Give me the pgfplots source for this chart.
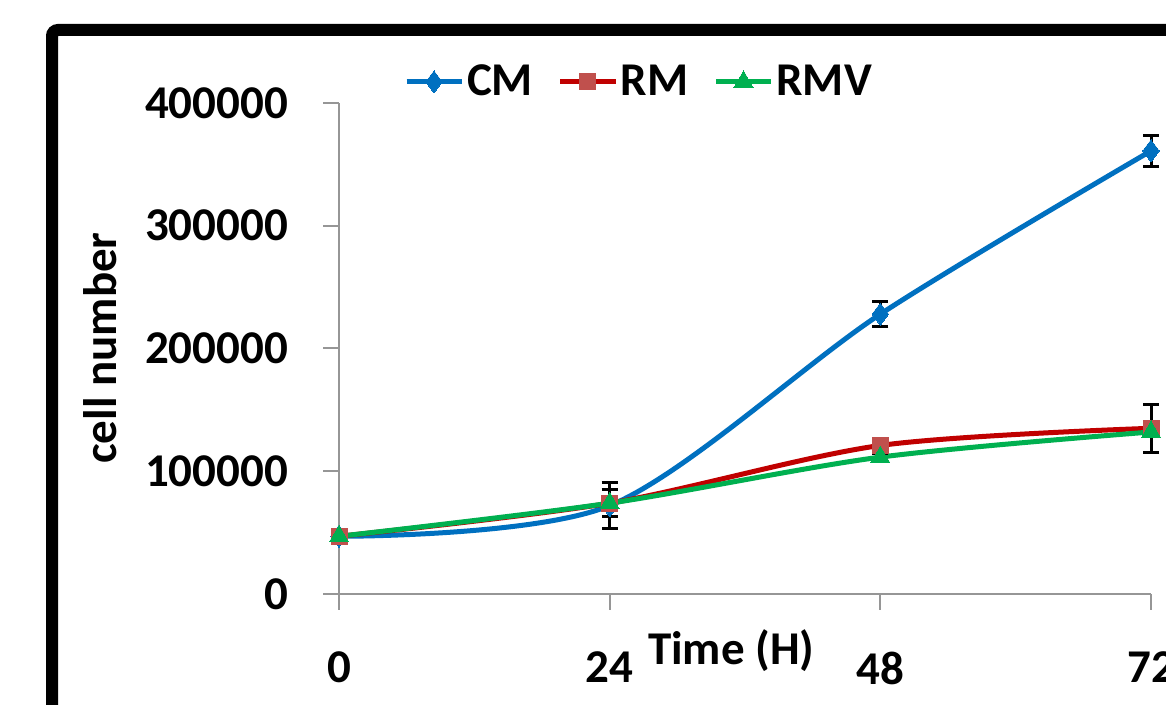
\documentclass[border=0pt]{standalone}
\usepackage{fontspec}
\setmainfont{Carlito}
\usepackage{pgfplots}
\pgfplotsset{compat=1.18}
\newlength{\pxu}\setlength{\pxu}{0.5pt}
\definecolor{cmblue}{HTML}{0070C0}
\definecolor{rmred}{HTML}{C00000}
\definecolor{rmmark}{HTML}{C0504D}
\definecolor{rmvgreen}{HTML}{00B050}
\definecolor{axgray}{HTML}{969696}
\newcommand{\bigf}{\bfseries\fontsize{23.5}{28}\selectfont}
\pgfplotstableread{
t y e
0 47000 1500
24 72000 19000
48 228000 10000
72 361000 12500
}\cmdata
\pgfplotstableread{
t y e
0 47000 1500
24 74000 11000
48 121000 3000
72 135000 19500
}\rmdata
\pgfplotstableread{
t y e
0 47000 1500
24 74000 5000
48 111500 3000
72 132000 3000
}\rmvdata
\begin{document}
\begin{tikzpicture}[x=\pxu,y=\pxu]
\useasboundingbox (0,0) rectangle (1166,705);
\clip (0,0) rectangle (1166,705);
\fill[white] (0,0) rectangle (1166,705);
\draw[line width=12\pxu, rounded corners=6\pxu] (52,-40) -- (52,675) -- (1220,675);
\begin{axis}[
  at={(339\pxu,111\pxu)}, anchor=south west,
  scale only axis, width=812\pxu, height=491\pxu,
  xmin=0, xmax=72, ymin=0, ymax=400000,
  clip=false,
  axis lines=left,
  axis line style={draw=axgray, line width=2\pxu, -},
  xtick={0,24,48,72},
  ytick={0,100000,200000,300000,400000},
  tick align=outside,
  major tick length=16\pxu,
  tick style={draw=axgray, line width=2\pxu},
  scaled y ticks=false,
  /pgf/number format/assume math mode=true,
  yticklabel style={/pgf/number format/fixed, /pgf/number format/1000 sep={}, font=\bigf, xshift=-28\pxu},
  xticklabel style={font=\bigf, yshift=-35\pxu},
  xlabel={Time (H)},
  ylabel={cell number},
  xlabel style={font=\bigf, at={(axis description cs:0.483,-0.116)}, anchor=center},
  ylabel style={font=\bigf, at={(axis description cs:-0.294,0.501)}, anchor=center},
  legend columns=3,
  legend style={at={(axis description cs:0.37,1.043)}, anchor=center, draw=none, fill=none,
    font=\bigf, inner sep=0pt, nodes={inner sep=3\pxu},
    /tikz/every even column/.append style={column sep=22\pxu}},
  legend image code/.code={\draw[mark repeat=2,mark phase=2,#1] plot coordinates {(0,0) (27.5\pxu,0) (55\pxu,0)};},
  error bars/y dir=both,
  error bars/y explicit,
  error bars/error bar style={black, line width=3\pxu},
  error bars/error mark options={black, line width=3\pxu, mark size=8\pxu, rotate=90},
]
\addplot[cmblue, line width=5\pxu, smooth, mark=diamond*, mark size=11\pxu, mark options={fill=cmblue, draw=cmblue, line width=0pt}]
  table[x=t, y=y, y error=e] {\cmdata};
\addlegendentry{CM}
\addplot[rmred, line width=5\pxu, smooth, mark=square*, mark size=8\pxu, mark options={fill=rmmark, draw=rmmark, line width=0pt}]
  table[x=t, y=y, y error=e] {\rmdata};
\addlegendentry{RM}
\addplot[rmvgreen, line width=5\pxu, smooth, mark=triangle*, mark size=11\pxu, mark options={fill=rmvgreen, draw=rmvgreen, line width=0pt}]
  table[x=t, y=y, y error=e] {\rmvdata};
\addlegendentry{RMV}
\draw[axgray, line width=2\pxu] (axis cs:0,0) -- ++(-16\pxu,0);
\end{axis}
\end{tikzpicture}
\end{document}
